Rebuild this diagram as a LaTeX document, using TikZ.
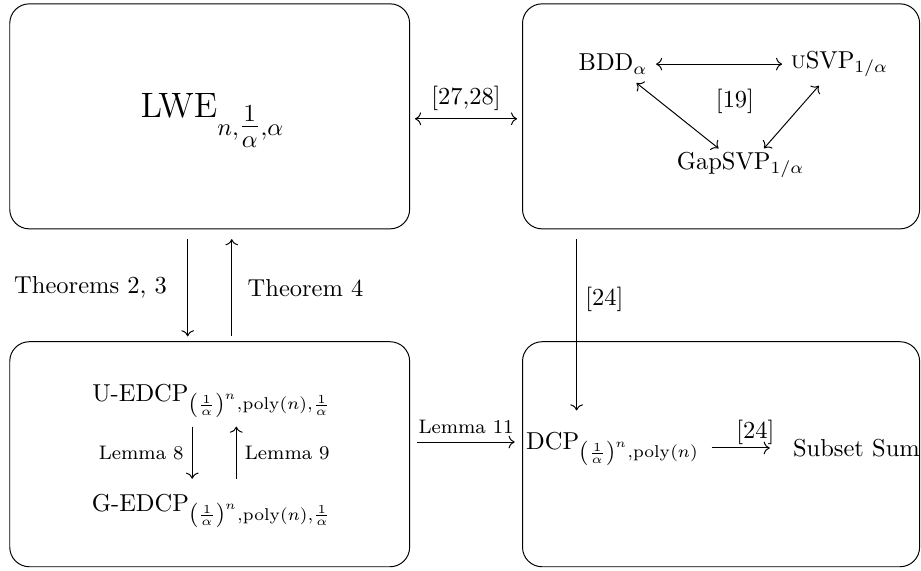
\documentclass[tikz,border=0pt]{standalone}
\usepackage{amsmath}
\usepackage{amssymb}
\usepackage{tikz}
\usetikzlibrary{arrows.meta}

\begin{document}
\begin{tikzpicture}[probbox/.style={draw,rounded corners=8pt,minimum width=5.74cm,minimum height=3.23cm},
                    lem/.style={font=\footnotesize}]
                \useasboundingbox (0,0) rectangle (13.22,-8.19);
                \node[probbox] (lwebox) at (3.01,-1.67) {};
                \node[probbox,minimum width=5.70cm] (svpbox) at (10.35,-1.67) {};
                \node[probbox] (edcpbox) at (3.01,-6.52) {};
                \node[probbox,minimum width=5.70cm] (dcpbox) at (10.35,-6.52) {};
                \node[font=\Large] (lwe) at (3.05,-1.73) {$\mathrm{LWE}_{n,\tfrac{1}{\alpha},\alpha}$};
                \node (bdd) at (8.80,-0.92) {$\mathrm{BDD}_\alpha$};
                \node (usvp) at (12.05,-0.92) {\textsc{u}SVP$_{1/\alpha}$};
                \node (gap) at (10.63,-2.37) {GapSVP$_{1/\alpha}$};
                \node (ref19) at (10.55,-1.46) {[19]};
                \draw[<->] (bdd) -- (usvp);
                \draw[<->] ([xshift=-8pt]bdd.south east) -- ([xshift=-9pt,yshift=-2pt]gap.north);
                \draw[<->] ([xshift=15pt]usvp.south west) -- ([xshift=-20pt,yshift=-2pt]gap.north east);
                \draw[<->] ([xshift=2pt,yshift=-1pt]lwebox.east) -- ([xshift=-2pt,yshift=-1pt]svpbox.west) node[midway,above] {[27,28]};
                \draw[->] ([xshift=-9pt,yshift=-4pt]lwebox.south) -- ([xshift=-9pt,yshift=2pt]edcpbox.north) node[midway,left=5pt] {Theorems 2, 3};
                \draw[<-] ([xshift=9pt,yshift=-4pt]lwebox.south) -- ([xshift=9pt,yshift=2pt]edcpbox.north) node[midway,right=3pt] {Theorem 4};
                \node (uedcp) at (3.04,-5.76) {$\text{U-EDCP}_{\left(\frac{1}{\alpha}\right)^n,\mathrm{poly}(n),\frac{1}{\alpha}}$};
                \node (gedcp) at (3.04,-7.34) {$\text{G-EDCP}_{\left(\frac{1}{\alpha}\right)^n,\mathrm{poly}(n),\frac{1}{\alpha}}$};
                \draw[->] ([xshift=-8pt]uedcp.south) -- ([xshift=-8pt,yshift=3pt]gedcp.north) node[midway,left,lem] {Lemma 8};
                \draw[<-] ([xshift=10pt]uedcp.south) -- ([xshift=10pt,yshift=3pt]gedcp.north) node[midway,right,lem] {Lemma 9};
                \node[anchor=west,inner sep=1pt] (dcp) at (7.51,-6.45) {$\mathrm{DCP}_{\left(\frac{1}{\alpha}\right)^n,\mathrm{poly}(n)}$};
                \node[anchor=west] (subset) at (11.26,-6.43) {Subset Sum};
                \draw[->] ([xshift=3pt,yshift=5pt]edcpbox.east) -- ([xshift=-3pt,yshift=5pt]dcpbox.west) node[midway,above,lem] {Lemma 11};
                \draw[->,shorten >=6pt] ([xshift=4pt]dcp.east |- subset) -- (subset) node[pos=0.6,above,inner sep=1pt] {[24]};
                \draw[->] ([xshift=-59pt,yshift=-4pt]svpbox.south) coordinate (s) -- ([yshift=8pt]s |- dcp.north) node[pos=0.35,right] {[24]};
            \end{tikzpicture}
\end{document}
